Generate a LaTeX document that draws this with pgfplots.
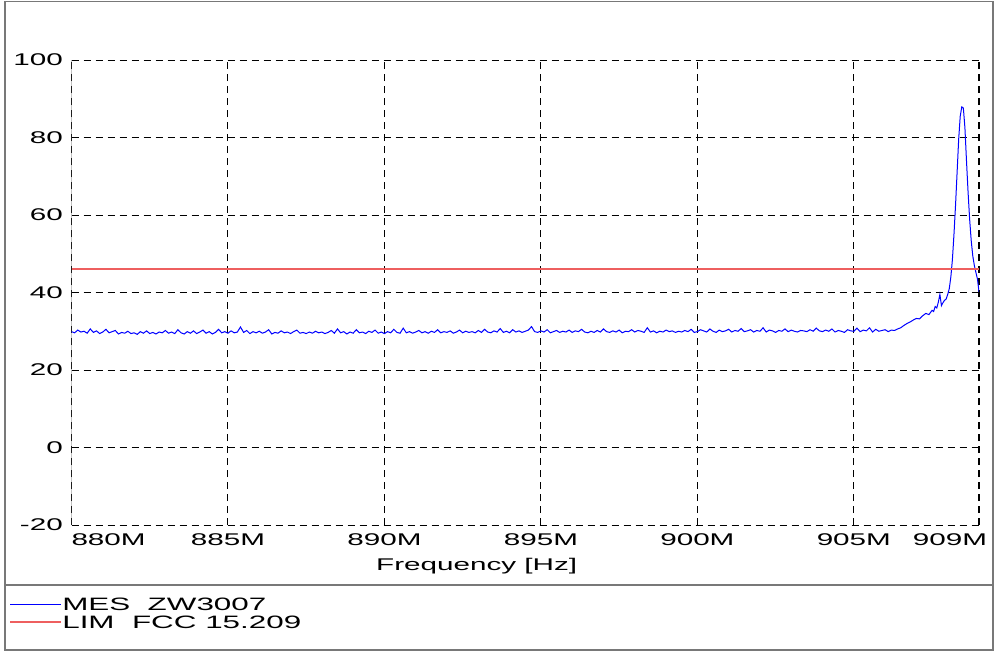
\documentclass[border=0pt]{standalone}
\usepackage{pgfplots}
\pgfplotsset{compat=1.18}
\usepackage{fontspec}
\setmainfont[FakeStretch=1.75]{Liberation Sans}
\definecolor{limred}{RGB}{238,95,95}
\definecolor{framegray}{RGB}{120,120,120}

\begin{document}
\begin{tikzpicture}
\useasboundingbox (0bp,0bp) rectangle (995bp,-652bp);
\draw[framegray, line width=1.5bp] (5bp,-1.5bp) rectangle (993bp,-650bp);
\draw[framegray, line width=1.5bp] (5bp,-585bp) -- (993bp,-585bp);
\begin{axis}[
    at={(71.5bp,-525bp)}, anchor=south west,
    scale only axis, width=907.5bp, height=465bp,
    xmin=880, xmax=909, ymin=-20, ymax=100,
    xtick={880,885,890,895,900,905,909},
    xticklabels={\makebox[0pt][l]{880M},885M,890M,895M,900M,905M,\hspace*{16bp}\makebox[0pt][r]{909M}},
    ytick={-20,0,20,40,60,80,100},
    /pgf/number format/assume math mode=true,
    tick label style={font=\fontsize{17}{20}\selectfont},
    xticklabel style={anchor=base, inner sep=0pt, yshift=-20bp},
    yticklabel style={anchor=east, inner sep=0pt, xshift=-8.5bp},
    major tick length=0pt,
    axis line style={draw=none},
    grid=major,
    major grid style={black, line width=1bp, dash pattern=on 7bp off 5bp},
    xlabel={Frequency [Hz]},
    xlabel style={at={(axis description cs:0.4465,-0.0968)}, anchor=base, inner sep=0pt, font=\fontsize{17}{20}\selectfont},
    legend style={at={(axis description cs:-0.0684,-0.157)}, anchor=north west,
        draw=none, fill=none, inner sep=0pt, row sep=5bp,
        font=\fontsize{18}{18}\selectfont, nodes={inner sep=0pt, text depth=0pt, text height=12.5bp}},
    legend cell align=left,
    legend image code/.code={\draw[#1] (0bp,0bp) -- (48bp,0bp); \path (0bp,0bp) -- (51bp,0bp);},
    /tikz/every even column/.append style={column sep=11bp},
]
\draw[framegray!70!black, line width=1bp] (rel axis cs:0,0) -- (rel axis cs:0,1);
\draw[black, line width=1.8bp, dash pattern=on 7bp off 5bp] (rel axis cs:0,1) -- (rel axis cs:1,1);
\draw[black, line width=1.8bp, dash pattern=on 7bp off 5bp] (rel axis cs:1,0) -- (rel axis cs:1,1);

% measured trace, MHz vs dBuV/m
\addplot[color=blue, line width=1bp] coordinates {
(880.0,29.9)(880.1,29.6)(880.2,30.3)(880.3,29.8)(880.4,30.0)(880.5,29.5)(880.6,30.6)(880.7,29.7)(880.8,30.1)(880.9,29.4)
(881.0,29.8)(881.1,30.5)(881.2,29.6)(881.3,29.9)(881.4,30.2)(881.5,29.3)(881.6,29.7)(881.7,29.5)(881.8,30.0)(881.9,29.4)
(882.0,29.6)(882.1,29.2)(882.2,29.9)(882.3,29.5)(882.4,30.1)(882.5,29.4)(882.6,29.7)(882.7,29.3)(882.8,29.8)(882.9,29.6)
(883.0,30.2)(883.1,29.5)(883.2,29.8)(883.3,29.4)(883.4,30.4)(883.5,29.6)(883.6,29.3)(883.7,29.9)(883.8,29.5)(883.9,30.1)
(884.0,29.4)(884.1,29.8)(884.2,30.3)(884.3,29.5)(884.4,29.9)(884.5,29.3)(884.6,29.7)(884.7,30.5)(884.8,29.6)(884.9,29.9)
(885.0,29.5)(885.1,30.1)(885.2,29.6)(885.3,29.8)(885.4,31.1)(885.5,29.7)(885.6,30.2)(885.7,29.4)(885.8,29.9)(885.9,29.6)
(886.0,30.0)(886.1,29.5)(886.2,29.8)(886.3,30.4)(886.4,29.3)(886.5,29.7)(886.6,29.5)(886.7,30.1)(886.8,29.6)(886.9,29.8)
(887.0,29.4)(887.1,29.9)(887.2,30.3)(887.3,29.5)(887.4,29.7)(887.5,29.4)(887.6,29.8)(887.7,29.5)(887.8,30.0)(887.9,29.6)
(888.0,29.8)(888.1,29.4)(888.2,29.7)(888.3,30.2)(888.4,29.5)(888.5,30.6)(888.6,29.6)(888.7,29.9)(888.8,29.3)(888.9,29.8)
(889.0,29.5)(889.1,30.4)(889.2,29.6)(889.3,29.8)(889.4,29.4)(889.5,30.0)(889.6,29.7)(889.7,30.3)(889.8,29.5)(889.9,29.8)
(890.0,29.4)(890.1,29.9)(890.2,29.6)(890.3,30.5)(890.4,29.7)(890.5,29.5)(890.6,30.8)(890.7,29.6)(890.8,29.9)(890.9,29.5)
(891.0,29.8)(891.1,30.2)(891.2,29.6)(891.3,29.9)(891.4,29.5)(891.5,30.0)(891.6,29.7)(891.7,30.4)(891.8,29.6)(891.9,29.9)
(892.0,29.7)(892.1,30.1)(892.2,29.5)(892.3,29.8)(892.4,30.3)(892.5,29.6)(892.6,30.0)(892.7,29.7)(892.8,29.9)(892.9,29.6)
(893.0,30.2)(893.1,29.7)(893.2,30.5)(893.3,29.8)(893.4,29.6)(893.5,30.1)(893.6,29.8)(893.7,30.7)(893.8,29.7)(893.9,30.0)
(894.0,29.6)(894.1,30.4)(894.2,29.8)(894.3,30.1)(894.4,29.7)(894.5,30.0)(894.6,30.3)(894.7,31.2)(894.8,29.9)(894.9,29.7)
(895.0,30.1)(895.1,29.8)(895.2,30.4)(895.3,29.6)(895.4,29.9)(895.5,30.2)(895.6,29.7)(895.7,30.0)(895.8,29.8)(895.9,30.3)
(896.0,29.7)(896.1,30.1)(896.2,29.9)(896.3,30.5)(896.4,29.8)(896.5,29.6)(896.6,30.0)(896.7,29.7)(896.8,30.2)(896.9,29.8)
(897.0,30.6)(897.1,29.9)(897.2,29.7)(897.3,30.1)(897.4,29.8)(897.5,30.3)(897.6,29.6)(897.7,30.0)(897.8,29.9)(897.9,30.4)
(898.0,29.8)(898.1,30.2)(898.2,30.0)(898.3,29.7)(898.4,30.9)(898.5,29.8)(898.6,30.1)(898.7,29.6)(898.8,30.0)(898.9,29.8)
(899.0,30.3)(899.1,29.9)(899.2,30.1)(899.3,29.7)(899.4,30.0)(899.5,29.8)(899.6,30.2)(899.7,29.9)(899.8,30.5)(899.9,29.7)
(900.0,29.9)(900.1,30.4)(900.2,30.1)(900.3,29.8)(900.4,30.6)(900.5,30.0)(900.6,29.7)(900.7,30.3)(900.8,29.9)(900.9,30.1)
(901.0,30.5)(901.1,29.8)(901.2,30.2)(901.3,30.0)(901.4,30.7)(901.5,29.9)(901.6,30.1)(901.7,30.4)(901.8,29.8)(901.9,30.2)
(902.0,30.0)(902.1,30.9)(902.2,29.8)(902.3,30.3)(902.4,30.1)(902.5,29.7)(902.6,30.2)(902.7,30.0)(902.8,30.6)(902.9,29.9)
(903.0,30.3)(903.1,30.0)(903.2,29.8)(903.3,30.2)(903.4,30.1)(903.5,29.9)(903.6,30.4)(903.7,30.0)(903.8,30.8)(903.9,30.1)
(904.0,29.9)(904.1,30.3)(904.2,30.0)(904.3,30.6)(904.4,29.8)(904.5,30.2)(904.6,30.0)(904.7,29.7)(904.8,30.4)(904.9,30.1)
(905.0,30.0)(905.1,30.8)(905.2,29.9)(905.3,30.3)(905.4,30.1)(905.5,30.9)(905.6,29.8)(905.7,30.5)(905.8,30.0)(905.9,30.2)
(906.0,30.4)(906.1,29.9)(906.2,30.3)(906.3,30.2)(906.4,30.6)(906.5,30.9)(906.6,31.5)(906.7,32.0)(906.8,32.4)(906.9,32.9)
(907.0,33.3)(907.1,33.2)(907.2,34.0)(907.3,34.6)(907.4,34.3)(907.5,35.4)(907.55,35.1)(907.6,36.4)(907.65,36.0)(907.7,37.5)
(907.75,39.5)(907.8,36.6)(907.85,37.4)(907.9,38.0)(907.95,38.3)(908.0,39.5)(908.05,41.0)(908.1,44.0)(908.15,48.5)(908.2,55.0)
(908.25,62.5)(908.3,71.0)(908.35,79.5)(908.4,85.5)(908.45,87.9)(908.5,87.6)(908.55,82.5)(908.6,74.0)(908.65,66.0)(908.7,59.0)
(908.75,53.5)(908.8,49.5)(908.85,47.0)(908.9,45.2)(908.95,43.5)(909.0,40.2)
};
\addlegendentry{MES\ \ ZW3007}
% limit line
\addplot[color=limred, line width=1.7bp] coordinates {(880,46) (909,46)};
\addlegendentry{LIM\ \ FCC 15.209}
\end{axis}
\end{tikzpicture}
\end{document}
